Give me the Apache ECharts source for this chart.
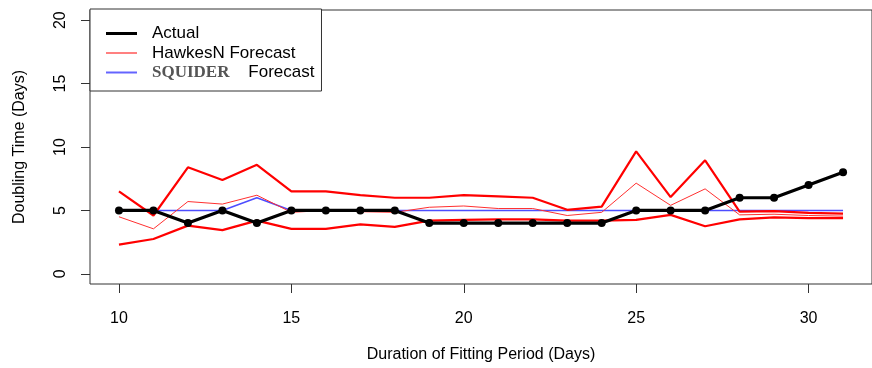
<!DOCTYPE html>
<html>
<head>
<meta charset="utf-8">
<script src="https://cdn.jsdelivr.net/npm/echarts@6/dist/echarts.min.js"></script>
<style>
html,body{margin:0;padding:0;background:#fff;}
#chart{width:872px;height:368px;}
</style>
</head>
<body>
<div id="chart"></div>
<script>
// Data
var days = [10,11,12,13,14,15,16,17,18,19,20,21,22,23,24,25,26,27,28,29,30,31];
var actual = [5,5,4,5,4,5,5,5,5,4,4,4,4,4,4,5,5,5,6,6,7,8];
var hawkesUpper = [6.5,4.6,8.4,7.4,8.6,6.5,6.5,6.2,6.0,6.0,6.2,6.1,6.0,5.05,5.3,9.65,6.05,8.95,4.9,4.95,4.8,4.75];
var hawkesMedian = [4.5,3.55,5.7,5.5,6.2,4.85,5.0,4.9,4.85,5.25,5.35,5.15,5.15,4.6,4.85,7.15,5.4,6.7,4.65,4.7,4.6,4.55];
var hawkesLower = [2.3,2.75,3.8,3.45,4.2,3.55,3.55,3.9,3.7,4.2,4.25,4.3,4.3,4.2,4.2,4.25,4.65,3.75,4.3,4.45,4.4,4.4];
var squider = [5,5,5,5,6,5,5,5,5,5,5,5,5,5,5,5,5,5,5,5,5,5];
var xTicks = [10,15,20,25,30];
var yTicks = [0,5,10,15,20];

function pairs(vals){ return days.map(function(d,i){ return [d, vals[i]]; }); }

var chart = echarts.init(document.getElementById('chart'), null, {renderer:'canvas'});
var font = 'Liberation Sans, Arial, sans-serif';
chart.setOption({
  backgroundColor: '#ffffff',
  animation: false,
  grid: {left: 90, top: 10, right: -10, bottom: 84, show: true, borderColor: '#333', borderWidth: 1, backgroundColor: 'transparent'},
  legend: {
    left: 90, top: 9, orient: 'vertical',
    padding: [15, 7, 9, 16],
    itemWidth: 31, itemHeight: 14, itemGap: 0.5,
    borderColor: '#333', borderWidth: 1, backgroundColor: '#fff',
    itemStyle: {borderWidth: 0},
    lineStyle: {width: 0},
    textStyle: {fontFamily: font, fontSize: 17, color: '#000', lineHeight: 19, padding: [0,0,0,10],
      rich: {s: {fontFamily: 'Liberation Serif, Times New Roman, serif', fontWeight: 'bold', fontSize: 17, color: '#555', lineHeight: 19}}},
    formatter: function(n){ return n === 'SQUIDER Forecast' ? '{s|SQUIDER}    Forecast' : n; },
    data: [
      {name: 'Actual', icon: 'path://M0,0H31V3H0Z', itemStyle: {color: '#000', borderWidth: 0}},
      {name: 'HawkesN Forecast', icon: 'path://M0,0H31V1H0Z', itemStyle: {color: '#ff0000', borderWidth: 0}},
      {name: 'SQUIDER Forecast', icon: 'path://M0,0H31V2H0Z', itemStyle: {color: '#6464ff', borderWidth: 0}}
    ]
  },
  xAxis: {
    type: 'value', min: 9.16, max: 31.84,
    name: 'Duration of Fitting Period (Days)', nameLocation: 'middle', nameGap: 63,
    nameTextStyle: {fontFamily: font, fontSize: 16, color: '#000'},
    axisLine: {show: false, onZero: false},
    axisTick: {show: true, inside: false, length: 9, lineStyle: {color: '#333'}, customValues: xTicks},
    axisLabel: {fontFamily: font, fontSize: 16, color: '#000', margin: 27, customValues: xTicks},
    splitLine: {show: false}
  },
  yAxis: {
    type: 'value', min: -0.8, max: 20.8,
    name: 'Doubling Time (Days)', nameLocation: 'middle', nameGap: 62,
    nameTextStyle: {fontFamily: font, fontSize: 16, color: '#000'},
    axisLine: {show: false, onZero: false},
    axisTick: {show: true, inside: false, length: 9, lineStyle: {color: '#333'}, customValues: yTicks},
    axisLabel: {fontFamily: font, fontSize: 16, color: '#000', margin: 21, rotate: 90, customValues: yTicks},
    splitLine: {show: false}
  },
  series: [
    {name: 'SQUIDER Forecast', type: 'line', data: pairs(squider), showSymbol: false, symbol: 'none',
     lineStyle: {color: '#4d4dff', width: 1.5}, itemStyle: {color: '#6464ff'}, z: 2},
    {name: 'HawkesN Forecast', type: 'line', data: pairs(hawkesUpper), symbol: 'none',
     lineStyle: {color: '#ff0000', width: 2.2}, itemStyle: {color: '#ff0000'}, z: 3},
    {name: 'HawkesN Forecast', type: 'line', data: pairs(hawkesMedian), symbol: 'none',
     lineStyle: {color: '#ff3030', width: 1}, itemStyle: {color: '#ff0000'}, z: 3},
    {name: 'HawkesN Forecast', type: 'line', data: pairs(hawkesLower), symbol: 'none',
     lineStyle: {color: '#ff0000', width: 2.2}, itemStyle: {color: '#ff0000'}, z: 3},
    {name: 'Actual', type: 'line', data: pairs(actual), symbol: 'circle', symbolSize: 8, showAllSymbol: true,
     lineStyle: {color: '#000', width: 3.2}, itemStyle: {color: '#000'}, z: 5}
  ]
});
</script>
</body>
</html>
